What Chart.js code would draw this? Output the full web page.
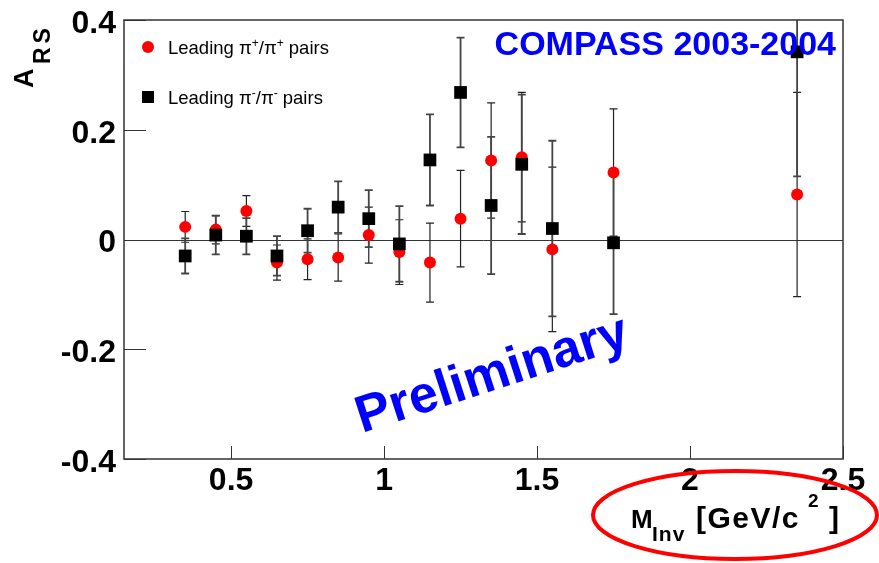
<!DOCTYPE html>
<html>
<head>
<meta charset="utf-8">
<script src="https://cdn.jsdelivr.net/npm/chart.js@4.4.1/dist/chart.umd.min.js"></script>
<style>
  html, body { margin: 0; padding: 0; background: #fff; }
  #wrap { width: 879px; height: 563px; }
</style>
</head>
<body>
<div id="wrap"><canvas id="asym" width="879" height="563"></canvas></div>
<script>
// invariant mass bins (GeV/c^2)
const massBins = [0.35, 0.45, 0.55, 0.65, 0.75, 0.85, 0.95, 1.05, 1.15, 1.25, 1.35, 1.45, 1.55, 1.75, 2.35];

// leading pi+/pi+ pairs
const asymPlus = [0.023, 0.018, 0.052, -0.042, -0.036, -0.033, 0.008, -0.023, -0.042, 0.038, 0.144, 0.150, -0.018, 0.122, 0.082];
const errPlus = [0.028, 0.026, 0.028, 0.032, 0.037, 0.043, 0.051, 0.059, 0.072, 0.088, 0.105, 0.118, 0.150, 0.116, 0.186];

// leading pi-/pi- pairs
const asymMinus = [-0.030, 0.008, 0.006, -0.030, 0.016, 0.059, 0.038, -0.008, 0.145, 0.268, 0.062, 0.137, 0.020, -0.006, 0.342];
const errMinus = [0.032, 0.035, 0.033, 0.036, 0.040, 0.047, 0.052, 0.069, 0.083, 0.100, 0.125, 0.127, 0.160, 0.130, 0.227];

const xTicks = [0.5, 1, 1.5, 2, 2.5];
const yTicks = [-0.4, -0.2, 0, 0.2, 0.4];

const FONT = '"Liberation Sans", Arial, Helvetica, sans-serif';
const BLUE = "#0000ff";

function toPoints(ys, errs) {
  return massBins.map((x, i) => ({ x: x, y: ys[i], err: errs[i] }));
}

// error bars + frame, zero line and inward ticks (ROOT style)
const frameAndErrors = {
  id: "frameAndErrors",
  beforeDatasetsDraw(chart) {
    const ctx = chart.ctx;
    const area = chart.chartArea;
    const xs = chart.scales.x;
    const ys = chart.scales.y;
    ctx.save();

    // zero line
    ctx.strokeStyle = "#333";
    ctx.lineWidth = 1;
    ctx.beginPath();
    const y0 = Math.round(ys.getPixelForValue(0)) + 0.5;
    ctx.moveTo(area.left, y0);
    ctx.lineTo(area.right, y0);
    ctx.stroke();

    // ticks pointing inward
    ctx.lineWidth = 1;
    ctx.beginPath();
    xTicks.forEach((v) => {
      const px = Math.round(xs.getPixelForValue(v)) + 0.5;
      ctx.moveTo(px, area.bottom);
      ctx.lineTo(px, area.bottom - 13);
    });
    yTicks.forEach((v) => {
      const py = Math.round(ys.getPixelForValue(v)) + 0.5;
      ctx.moveTo(area.left, py);
      ctx.lineTo(area.left + 22, py);
    });
    ctx.stroke();

    // error bars
    ctx.beginPath();
    ctx.rect(area.left, area.top, area.right - area.left, area.bottom - area.top);
    ctx.clip();
    chart.data.datasets.forEach((ds, di) => {
      const meta = chart.getDatasetMeta(di);
      ctx.strokeStyle = ds.errColor;
      ctx.lineWidth = ds.errWidth;
      ds.data.forEach((p, i) => {
        const px = meta.data[i].x;
        const top = ys.getPixelForValue(p.y + p.err);
        const bot = ys.getPixelForValue(p.y - p.err);
        ctx.beginPath();
        ctx.moveTo(px, top);
        ctx.lineTo(px, bot);
        ctx.moveTo(px - 4, top);
        ctx.lineTo(px + 4, top);
        ctx.moveTo(px - 4, bot);
        ctx.lineTo(px + 4, bot);
        ctx.stroke();
      });
    });
    ctx.restore();

    // frame
    ctx.save();
    ctx.strokeStyle = "#333";
    ctx.lineWidth = 1.5;
    ctx.strokeRect(area.left, area.top, area.right - area.left, area.bottom - area.top);
    ctx.restore();
  },
};

function runText(ctx, x, y, runs) {
  let cx = x;
  runs.forEach((r) => {
    ctx.font = r.font;
    ctx.fillText(r.text, cx, y + (r.dy || 0));
    cx += ctx.measureText(r.text).width;
  });
}

const annotations = {
  id: "annotations",
  afterDraw(chart) {
    const ctx = chart.ctx;
    ctx.save();
    ctx.textBaseline = "alphabetic";
    ctx.textAlign = "left";

    // legend
    ctx.fillStyle = "#ff0000";
    ctx.beginPath();
    ctx.arc(148, 47, 6, 0, Math.PI * 2);
    ctx.fill();
    ctx.fillStyle = "#000";
    ctx.fillRect(142, 91, 12, 12);

    const lf = "18.5px " + FONT;
    const sf = "12px " + FONT;
    runText(ctx, 168, 54, [
      { text: "Leading \u03c0", font: lf },
      { text: "+", font: sf, dy: -7 },
      { text: "/\u03c0", font: lf },
      { text: "+", font: sf, dy: -7 },
      { text: " pairs", font: lf },
    ]);
    runText(ctx, 168, 104, [
      { text: "Leading \u03c0", font: lf },
      { text: "-", font: sf, dy: -7 },
      { text: "/\u03c0", font: lf },
      { text: "-", font: sf, dy: -7 },
      { text: " pairs", font: lf },
    ]);

    // experiment label
    ctx.fillStyle = BLUE;
    ctx.textAlign = "right";
    ctx.font = "bold 34px " + FONT;
    ctx.fillText("COMPASS 2003-2004", 836, 55);

    // preliminary stamp
    ctx.textAlign = "left";
    ctx.save();
    ctx.translate(362, 433);
    ctx.rotate(-18 * Math.PI / 180);
    ctx.font = "bold 52px " + FONT;
    ctx.fillText("Preliminary", 0, 0);
    ctx.restore();

    // y axis title
    ctx.fillStyle = "#000";
    ctx.save();
    ctx.translate(33, 88);
    ctx.rotate(-Math.PI / 2);
    ctx.font = "bold 27px " + FONT;
    ctx.fillText("A", 0, 0);
    ctx.font = "bold 23px " + FONT;
    ctx.letterSpacing = "4px";
    ctx.fillText("RS", 24, 17);
    ctx.letterSpacing = "0px";
    ctx.restore();

    // x axis title
    ctx.font = "bold 26px " + FONT;
    ctx.fillText("M", 631, 528);
    ctx.font = "bold 21px " + FONT;
    ctx.letterSpacing = "1px";
    ctx.fillText("Inv", 652, 541);
    ctx.font = "bold 30px " + FONT;
    ctx.letterSpacing = "1.5px";
    ctx.fillText("[GeV/c", 696, 528);
    ctx.letterSpacing = "0px";
    ctx.font = "bold 19px " + FONT;
    ctx.fillText("2", 808, 507);
    ctx.font = "bold 30px " + FONT;
    ctx.fillText("]", 829, 528);

    // red ellipse around axis title
    ctx.strokeStyle = "#ff0000";
    ctx.lineWidth = 4;
    ctx.beginPath();
    ctx.ellipse(735, 515, 142, 44, 0, 0, Math.PI * 2);
    ctx.stroke();

    ctx.restore();
  },
};

const ctx = document.getElementById("asym");

const asymChart = new Chart(ctx, {
  type: "scatter",
  data: {
    datasets: [
      {
        label: "Leading \u03c0+/\u03c0+ pairs",
        data: toPoints(asymPlus, errPlus),
        pointStyle: "circle",
        pointRadius: 6,
        pointHoverRadius: 6,
        backgroundColor: "#ff0000",
        borderWidth: 0,
        errColor: "#222",
        errWidth: 1.2,
        order: 2,
      },
      {
        label: "Leading \u03c0-/\u03c0- pairs",
        data: toPoints(asymMinus, errMinus),
        pointStyle: "rect",
        pointRadius: 9,
        pointHoverRadius: 9,
        backgroundColor: "#000",
        borderWidth: 0,
        errColor: "#444",
        errWidth: 1.8,
        order: 1,
      },
    ],
  },
  options: {
    responsive: false,
    animation: false,
    events: [],
    layout: { padding: { top: 20, right: 36, left: 0, bottom: 0 } },
    plugins: {
      legend: { display: false },
      tooltip: { enabled: false },
    },
    scales: {
      x: {
        type: "linear",
        min: 0.15,
        max: 2.5,
        afterBuildTicks: (s) => { s.ticks = xTicks.map((v) => ({ value: v })); },
        afterFit: (s) => { s.height = 104; },
        grid: { display: false, drawTicks: false },
        border: { display: false },
        ticks: {
          color: "#000",
          padding: 3,
          font: { family: FONT, size: 32, weight: "bold" },
          callback: (v) => String(v),
        },
      },
      y: {
        type: "linear",
        min: -0.4,
        max: 0.4,
        afterBuildTicks: (s) => { s.ticks = yTicks.map((v) => ({ value: v })); },
        afterFit: (s) => {
          s.width = 124;
          s.paddingTop = 0;
          s.paddingBottom = 0;
        },
        grid: { display: false, drawTicks: false },
        border: { display: false },
        ticks: {
          color: "#000",
          padding: 8,
          labelOffset: 4,
          font: { family: FONT, size: 32, weight: "bold", lineHeight: 0.6 },
          callback: (v) => String(v),
        },
      },
    },
  },
  plugins: [frameAndErrors, annotations],
});
</script>
</body>
</html>
